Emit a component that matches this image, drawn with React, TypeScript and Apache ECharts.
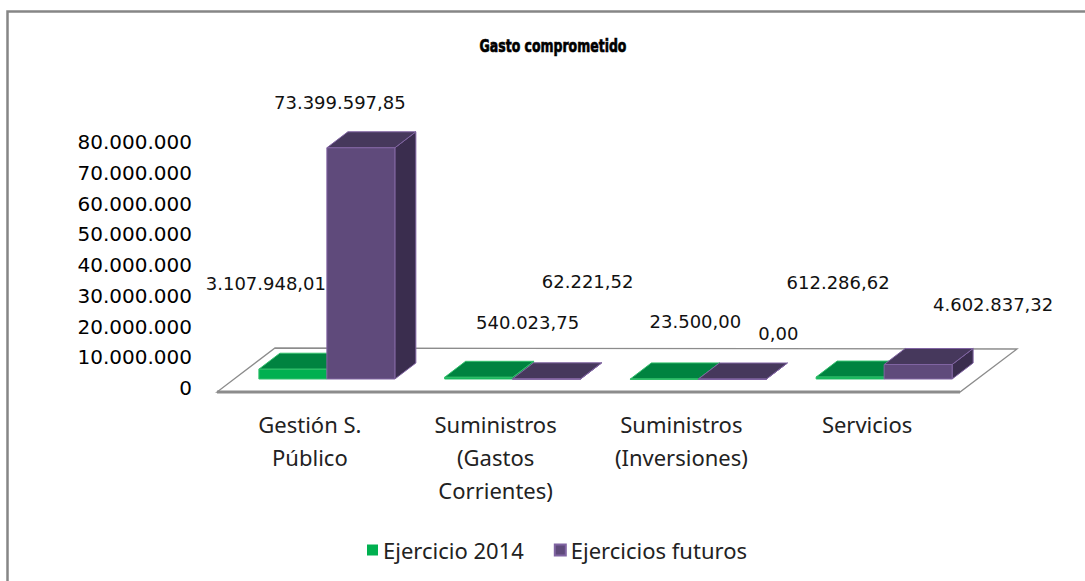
import React, { useEffect, useRef } from 'react';
import * as echarts from 'echarts';

// ---- data ----
const CATEGORIES = [
  'Gestión S.\nPúblico',
  'Suministros\n(Gastos\nCorrientes)',
  'Suministros\n(Inversiones)',
  'Servicios',
];
const SERIES_NAMES = ['Ejercicio 2014', 'Ejercicios futuros'];
const EJERCICIO_2014 = [3107948.01, 540023.75, 23500.0, 612286.62];
const EJERCICIOS_FUTUROS = [73399597.85, 62221.52, 0.0, 4602837.32];
const Y_MIN = 0;
const Y_MAX = 80000000;
const Y_INTERVAL = 10000000;
const TITLE = 'Gasto comprometido';

// ---- layout (not data) ----
const LABEL_OFFSETS = [
  [[-27, -86], [49, -55], [31, -57], [-12, -95]],
  [[-21, -45], [41, -97], [46, -46], [75, -60]],
];
const DX = 21;
const DY = -16;
const COLORS = [
  { front: '#00B050', top: '#008340', side: '#006B33', border: '#33C06C' },
  { front: '#5F4A7B', top: '#46385C', side: '#3A2D4E', border: '#8064A2' },
];

function fmt(v: number, dec: number): string {
  const [i, d] = v.toFixed(dec).split('.');
  const g = i.replace(/\B(?=(\d{3})+(?!\d))/g, '.');
  return d ? g + ',' + d : g;
}

function makeRender(si: number) {
  return (params: any, api: any) => {
    const idx = api.value(0);
    const v = api.value(1);
    const base = api.coord([idx, 0]);
    const top = api.coord([idx, v]);
    const catW = api.size([1, 0])[0];
    const bw = catW * 0.366;
    const x0 = si === 0 ? base[0] - bw : base[0];
    const x1 = x0 + bw;
    const yt = top[1];
    const yb = base[1];
    const c = COLORS[si];
    const off = LABEL_OFFSETS[si][params.dataIndex];
    const cx = (x0 + x1) / 2;
    return {
      type: 'group',
      children: [
        {
          type: 'polygon',
          shape: { points: [[x1, yt], [x1 + DX, yt + DY], [x1 + DX, yb + DY], [x1, yb]] },
          style: { fill: c.side, stroke: c.border, lineWidth: 1 },
        },
        {
          type: 'polygon',
          shape: { points: [[x0, yt], [x1, yt], [x1 + DX, yt + DY], [x0 + DX, yt + DY]] },
          style: { fill: c.top, stroke: c.border, lineWidth: 1 },
        },
        {
          type: 'rect',
          shape: { x: x0, y: yt, width: bw, height: Math.max(yb - yt, 0.5) },
          style: { fill: c.front, stroke: c.border, lineWidth: 1 },
        },
        {
          type: 'text',
          z2: 100,
          style: {
            x: cx + off[0],
            y: yt + off[1],
            text: fmt(v, 2),
            textAlign: 'center',
            textVerticalAlign: 'middle',
            fontFamily: 'DejaVu Sans',
            fontSize: 18,
            fill: '#111',
          },
        },
      ],
    };
  };
}

export default function App() {
  const ref = useRef<HTMLDivElement>(null);
  useEffect(() => {
    if (!ref.current) return;
    const chart = echarts.init(ref.current, null, { renderer: 'svg' });
    chart.setOption({
      animation: false,
      backgroundColor: '#ffffff',
      graphic: [
        {
          type: 'rect',
          z: 0,
          shape: { x: 7.5, y: 11.5, width: 1200, height: 700 },
          style: { fill: 'none', stroke: '#868686', lineWidth: 2.5 },
        },
        {
          type: 'polygon',
          z: 0,
          shape: { points: [[217, 392], [960, 392], [1017, 349], [275, 348]] },
          style: { fill: '#ffffff', stroke: '#8c8c8c', lineWidth: 1.3 },
        },
        {
          type: 'line',
          z: 0,
          shape: { x1: 217, y1: 392, x2: 960, y2: 392 },
          style: { stroke: '#8c8c8c', lineWidth: 3 },
        },
        {
          type: 'text',
          z: 10,
          x: 553,
          y: 46,
          scaleX: 1,
          scaleY: 1.35,
          style: {
            x: 0,
            y: 0,
            text: TITLE,
            textAlign: 'center',
            textVerticalAlign: 'middle',
            fontFamily: 'DejaVu Sans',
            fontWeight: 'bold',
            fontSize: 12.5,
            fill: '#000',
            stroke: '#000',
            lineWidth: 0.5,
          },
        },
      ],
      legend: {
        left: 362,
        top: 534,
        itemWidth: 11,
        itemHeight: 11,
        itemGap: 30,
        icon: 'rect',
        data: SERIES_NAMES,
        textStyle: { fontFamily: 'Noto Sans', fontSize: 22, color: '#222', lineHeight: 22 },
      },
      grid: [
        { left: 234, width: 743, top: 127, height: 252 },
        { left: 217, width: 743, top: 142, height: 246 },
      ],
      xAxis: [
        { type: 'category', gridIndex: 0, data: CATEGORIES, show: false },
        {
          type: 'category',
          gridIndex: 1,
          data: CATEGORIES,
          axisLine: { show: false },
          axisTick: { show: false },
          axisLabel: {
            interval: 0,
            margin: 19,
            fontFamily: 'Noto Sans',
            fontSize: 22,
            lineHeight: 33,
            color: '#222',
          },
        },
      ],
      yAxis: [
        { type: 'value', gridIndex: 0, min: Y_MIN, max: Y_MAX, show: false, splitLine: { show: false } },
        {
          type: 'value',
          gridIndex: 1,
          min: Y_MIN,
          max: Y_MAX,
          interval: Y_INTERVAL,
          axisLine: { show: false },
          axisTick: { show: false },
          splitLine: { show: false },
          axisLabel: {
            margin: 25,
            fontFamily: 'DejaVu Sans',
            fontSize: 20,
            color: '#000',
            formatter: (v: number) => fmt(v, 0),
          },
        },
      ],
      series: [
        {
          type: 'custom',
          name: SERIES_NAMES[0],
          xAxisIndex: 0,
          yAxisIndex: 0,
          renderItem: makeRender(0),
          encode: { x: 0, y: 1 },
          itemStyle: { color: COLORS[0].front },
          data: EJERCICIO_2014.map((v, i) => [i, v]),
        },
        {
          type: 'custom',
          name: SERIES_NAMES[1],
          xAxisIndex: 0,
          yAxisIndex: 0,
          renderItem: makeRender(1),
          encode: { x: 0, y: 1 },
          itemStyle: { color: COLORS[1].front, borderColor: COLORS[1].border, borderWidth: 1 },
          data: EJERCICIOS_FUTUROS.map((v, i) => [i, v]),
        },
      ],
    });
    return () => chart.dispose();
  }, []);
  return (
    <div
      ref={ref}
      style={{ position: 'absolute', left: 0, top: 0, width: 1085, height: 581, background: '#fff' }}
    />
  );
}
